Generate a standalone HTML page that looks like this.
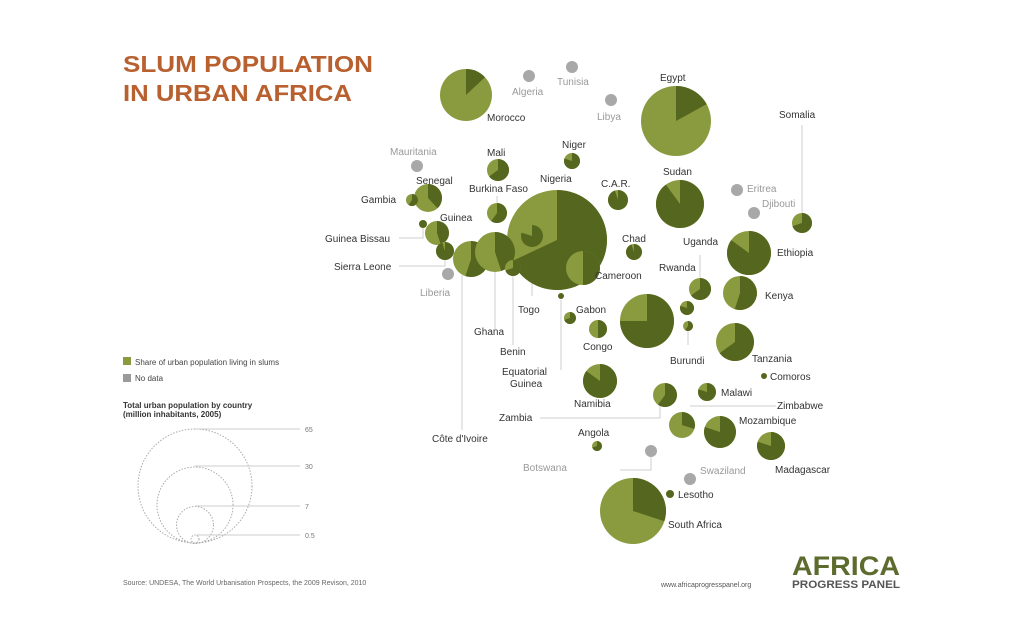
<!DOCTYPE html>
<html><head><meta charset="utf-8"><style>
html,body{margin:0;padding:0;background:#fff;width:1024px;height:621px;overflow:hidden}
svg{display:block}
text{font-family:"Liberation Sans",sans-serif}
</style></head><body>
<svg id="s" width="1024" height="621" viewBox="0 0 1024 621" xmlns="http://www.w3.org/2000/svg">
<text x="123" y="72" font-size="23" font-weight="bold" fill="#b8602f" textLength="250" lengthAdjust="spacingAndGlyphs">SLUM POPULATION</text>
<text x="123" y="101" font-size="23" font-weight="bold" fill="#b8602f" textLength="229" lengthAdjust="spacingAndGlyphs">IN URBAN AFRICA</text>
<g stroke="#cfcfcf" stroke-width="1" fill="none">
<polyline points="802,213 802,125"/>
<polyline points="399,238 423,238 423,228"/>
<polyline points="399,266 445,266 445,260"/>
<polyline points="462,275 462,430"/>
<polyline points="495,272 495,330"/>
<polyline points="513,276 513,345"/>
<polyline points="532,245 532,296"/>
<polyline points="561,300 561,370"/>
<polyline points="497,203 497,196"/>
<polyline points="688,331 688,345"/>
<polyline points="700,278 700,255"/>
<polyline points="764,376 766,376"/>
<polyline points="540,418 660,418 660,405"/>
<polyline points="690,406 776,406"/>
<polyline points="651,457 651,470 620,470"/>
<polyline points="682,438 682,412"/>
</g>
<g id="b"></g>
<g font-size="10" fill="#333">
<text x="487" y="121">Morocco</text>
<text x="512" y="95" fill="#999">Algeria</text>
<text x="557" y="85" fill="#999">Tunisia</text>
<text x="597" y="120" fill="#999">Libya</text>
<text x="660" y="81">Egypt</text>
<text x="779" y="118">Somalia</text>
<text x="390" y="155" fill="#999">Mauritania</text>
<text x="487" y="156">Mali</text>
<text x="562" y="148">Niger</text>
<text x="416" y="184">Senegal</text>
<text x="361" y="203">Gambia</text>
<text x="469" y="192">Burkina Faso</text>
<text x="540" y="182">Nigeria</text>
<text x="601" y="187">C.A.R.</text>
<text x="663" y="175">Sudan</text>
<text x="747" y="192" fill="#999">Eritrea</text>
<text x="762" y="207" fill="#999">Djibouti</text>
<text x="777" y="256">Ethiopia</text>
<text x="440" y="221">Guinea</text>
<text x="325" y="242">Guinea Bissau</text>
<text x="334" y="270">Sierra Leone</text>
<text x="622" y="242">Chad</text>
<text x="683" y="245">Uganda</text>
<text x="659" y="271">Rwanda</text>
<text x="595" y="279">Cameroon</text>
<text x="765" y="299">Kenya</text>
<text x="420" y="296" fill="#999">Liberia</text>
<text x="518" y="313">Togo</text>
<text x="576" y="313">Gabon</text>
<text x="474" y="335">Ghana</text>
<text x="583" y="350">Congo</text>
<text x="500" y="355">Benin</text>
<text x="670" y="364">Burundi</text>
<text x="752" y="362">Tanzania</text>
<text x="502" y="375">Equatorial</text>
<text x="510" y="387">Guinea</text>
<text x="770" y="380">Comoros</text>
<text x="721" y="396">Malawi</text>
<text x="574" y="407">Namibia</text>
<text x="777" y="409">Zimbabwe</text>
<text x="499" y="421">Zambia</text>
<text x="739" y="424">Mozambique</text>
<text x="578" y="436">Angola</text>
<text x="432" y="442">Côte d'Ivoire</text>
<text x="523" y="471" fill="#999">Botswana</text>
<text x="775" y="473">Madagascar</text>
<text x="700" y="474" fill="#999">Swaziland</text>
<text x="678" y="498">Lesotho</text>
<text x="668" y="528">South Africa</text>
</g>
<rect x="123" y="357" width="8" height="8" fill="#8a9b3f"/>
<text x="135" y="365" font-size="8" fill="#444">Share of urban population living in slums</text>
<rect x="123" y="374" width="8" height="8" fill="#9a9a9a"/>
<text x="135" y="381" font-size="8" fill="#444">No data</text>
<text x="123" y="408" font-size="8" font-weight="bold" fill="#333">Total urban population by country</text>
<text x="123" y="417" font-size="8" font-weight="bold" fill="#333">(million inhabitants, 2005)</text>
<g fill="none" stroke="#aaa" stroke-dasharray="1.5,1.5">
<circle cx="195" cy="486" r="57"/><circle cx="195" cy="505" r="38"/><circle cx="195" cy="525" r="18.5"/><circle cx="195" cy="539" r="4"/>
</g>
<g stroke="#ccc"><line x1="195" y1="429" x2="300" y2="429"/><line x1="195" y1="466" x2="300" y2="466"/><line x1="195" y1="506" x2="300" y2="506"/><line x1="195" y1="535" x2="300" y2="535"/></g>
<g font-size="7" fill="#777"><text x="305" y="432">65</text><text x="305" y="469">30</text><text x="305" y="509">7</text><text x="305" y="538">0.5</text></g>
<text x="123" y="585" font-size="7" fill="#666">Source: UNDESA, The World Urbanisation Prospects, the 2009 Revison, 2010</text>
<text x="661" y="587" font-size="7" fill="#555">www.africaprogresspanel.org</text>
<text x="792" y="575" font-size="27" font-weight="bold" fill="#5d6b2e" textLength="108" lengthAdjust="spacingAndGlyphs">AFRICA</text>
<text x="792" y="588" font-size="11" font-weight="bold" fill="#555" textLength="108" lengthAdjust="spacingAndGlyphs">PROGRESS PANEL</text>
</svg>
<script>
var L="#8a9b3f",D="#55671f",G="#a8a8a8";
var B=[[466,95,26,.13],[529,76,6,-1],[572,67,6,-1],[611,100,6,-1],[676,121,35,.17],[802,223,10,.7],[417,166,6,-1],
[498,170,11,.65],[572,161,8,.8],[428,198,14,.38],[412,200,6,.6],[497,213,10,.6],[557,240,50,.68],[618,200,10,.95],
[680,204,24,.9],[737,190,6,-1],[754,213,6,-1],[749,253,22,.85],[437,233,12,.45],[423,224,4,1],[445,251,9,.95],
[634,252,8,.95],[700,289,11,.65],[740,293,17,.55],[687,308,7,.8],[688,326,5,.6],[448,274,6,-1],[471,259,18,.55],
[495,252,20,.45],[513,268,8,.7],[532,236,11,.8],[583,268,17,.5],[561,296,3,1],[570,318,6,.7],[598,329,9,.5],
[647,321,27,.75],[735,342,19,.65],[764,376,3,1],[600,381,17,.85],[597,446,5,.7],[707,392,9,.8],[665,395,12,.6],
[682,425,13,.3],[720,432,16,.8],[771,446,14,.8],[651,451,6,-1],[690,479,6,-1],[670,494,4,1],[633,511,33,.3]];
var g=document.getElementById("b"),h="";
B.forEach(function(b){var x=b[0],y=b[1],r=b[2],f=b[3];
if(f<0){h+='<circle cx="'+x+'" cy="'+y+'" r="'+r+'" fill="'+G+'"/>';return;}
if(f>=1){h+='<circle cx="'+x+'" cy="'+y+'" r="'+r+'" fill="'+D+'"/>';return;}
h+='<circle cx="'+x+'" cy="'+y+'" r="'+r+'" fill="'+L+'"/>';
var a=f*2*Math.PI,ex=x+r*Math.sin(a),ey=y-r*Math.cos(a);
h+='<path d="M'+x+','+y+' L'+x+','+(y-r)+' A'+r+','+r+' 0 '+(f>.5?1:0)+',1 '+ex.toFixed(2)+','+ey.toFixed(2)+' Z" fill="'+D+'"/>';});
g.innerHTML=h;
</script>
</body></html>
